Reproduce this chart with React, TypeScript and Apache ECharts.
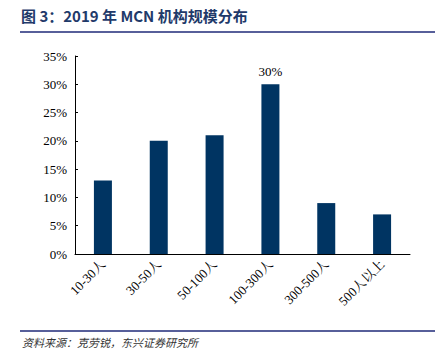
import React, { useEffect, useRef } from "react";
import * as echarts from "echarts";

const categories = ["10-30人", "30-50人", "50-100人", "100-300人", "300-500人", "500人以上"];
const values = [13, 20, 21, 30, 9, 7];
const labeledIndex = 3;
const titleText = "图 3：2019 年 MCN 机构规模分布";
const sourceText = "资料来源：克劳锐，东兴证券研究所";

export default function App() {
  const ref = useRef<HTMLDivElement>(null);
  useEffect(() => {
    const chart = echarts.init(ref.current!, null, { renderer: "svg" });
    chart.setOption({
      animation: false,
      backgroundColor: "#fff",
      graphic: [
        {
          type: "text",
          left: 21,
          top: 8,
          style: {
            text: titleText,
            font: "bold 15px 'Noto Sans CJK SC', 'Noto Sans', sans-serif",
            fill: "#1f3a6a",
          },
        },
        {
          type: "line",
          shape: { x1: 20, y1: 32, x2: 435, y2: 32 },
          style: { stroke: "#1f2a78", lineWidth: 1.5 },
        },
        {
          type: "line",
          shape: { x1: 20, y1: 331, x2: 435, y2: 331 },
          style: { stroke: "#1f2a78", lineWidth: 1.5 },
        },
        {
          type: "text",
          left: 22,
          top: 336,
          style: {
            text: sourceText,
            font: "italic 11px 'Noto Sans CJK SC', sans-serif",
            fill: "#333",
          },
        },
      ],
      grid: { left: 75, right: 36, top: 56, bottom: 109 },
      xAxis: {
        type: "category",
        data: categories,
        axisLine: { lineStyle: { color: "#000", width: 1 } },
        axisTick: { show: false },
        axisLabel: {
          rotate: 45,
          interval: 0,
          margin: 8,
          color: "#000",
          fontFamily: "'Liberation Serif', 'Noto Serif CJK SC', 'Noto Sans CJK SC', serif",
          fontSize: 13,
        },
      },
      yAxis: {
        type: "value",
        min: 0,
        max: 35,
        interval: 5,
        axisLine: { show: true, lineStyle: { color: "#000", width: 1 } },
        axisTick: { show: true, inside: true, length: 3, lineStyle: { color: "#000" } },
        splitLine: { show: false },
        axisLabel: {
          formatter: "{value}%",
          color: "#000",
          margin: 8,
          fontFamily: "'Liberation Serif', serif",
          fontSize: 13,
        },
      },
      series: [
        {
          type: "bar",
          barWidth: 18,
          data: values.map((v, i) => ({
            value: v,
            label: {
              show: i === labeledIndex,
              position: "top",
              distance: 6,
              formatter: "{c}%",
              color: "#000",
              fontFamily: "'Liberation Serif', serif",
              fontSize: 13,
            },
          })),
          itemStyle: { color: "#003462" },
        },
      ],
    });
    return () => chart.dispose();
  }, []);
  return <div ref={ref} style={{ width: 446, height: 363, position: "absolute", left: 0, top: 0 }} />;
}
